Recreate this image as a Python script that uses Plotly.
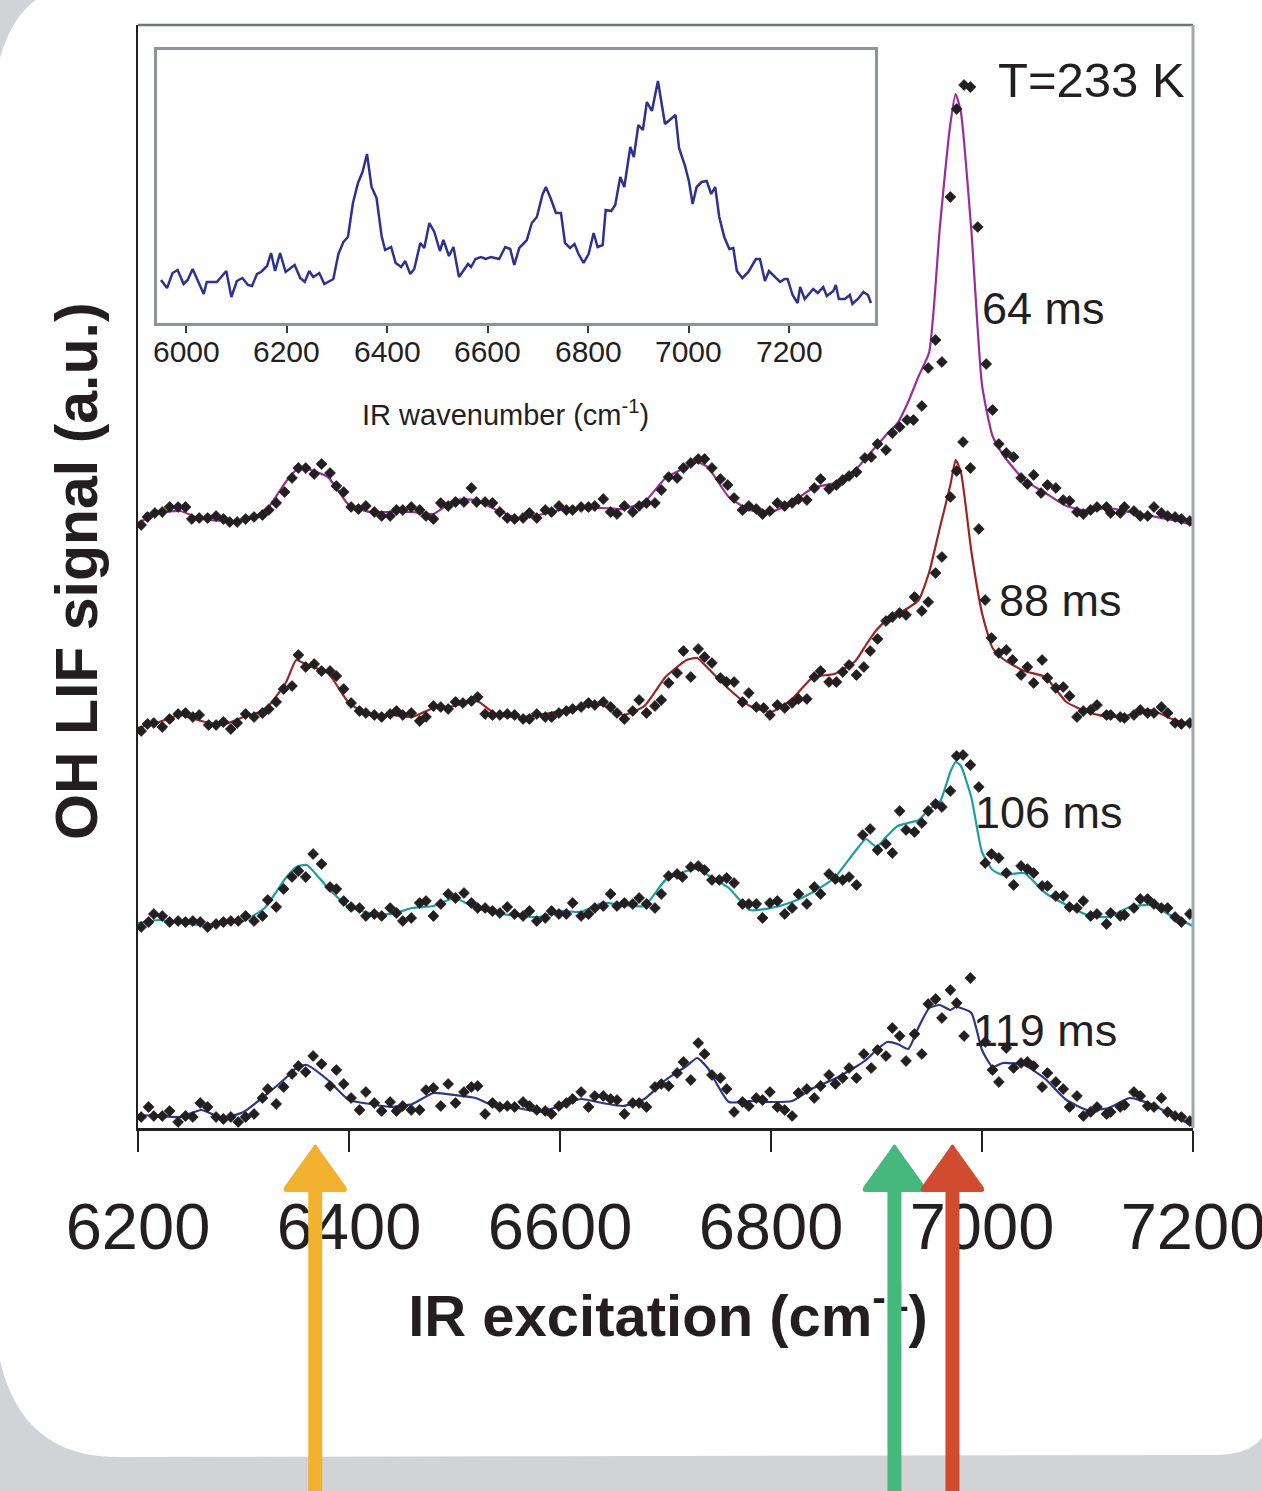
import plotly.graph_objects as go

# ---------------- data ----------------
tick_main = [6200, 6400, 6600, 6800, 7000, 7200]
tick_inset = [6000, 6200, 6400, 6600, 6800, 7000, 7200]
delay_labels = ["64 ms", "88 ms", "106 ms", "119 ms"]
temperature_label = "T=233 K"

x_64 = [6203, 6209, 6216, 6223, 6230, 6238, 6245, 6251, 6258, 6266,
        6274, 6281, 6287, 6294, 6302, 6310, 6318, 6324, 6331, 6339,
        6346, 6352, 6359, 6367, 6374, 6382, 6388, 6395, 6402, 6409,
        6416, 6424, 6431, 6439, 6445, 6451, 6459, 6467, 6473, 6480,
        6487, 6494, 6501, 6509, 6516, 6521, 6529, 6536, 6543, 6550,
        6557, 6565, 6571, 6578, 6586, 6592, 6599, 6606, 6612, 6620,
        6627, 6633, 6641, 6648, 6654, 6661, 6669, 6675, 6682, 6690,
        6696, 6703, 6711, 6717, 6724, 6731, 6737, 6744, 6752, 6759,
        6765, 6773, 6779, 6786, 6792, 6799, 6806, 6813, 6820, 6826,
        6834, 6841, 6847, 6855, 6862, 6868, 6874, 6881, 6889, 6895,
        6901, 6909, 6915, 6922, 6929, 6935, 6943, 6949, 6956, 6962,
        6970, 6976, 6983, 6989, 6996, 7004, 7010, 7016, 7023, 7030,
        7037, 7043, 7049, 7056, 7062, 7070, 7077, 7083, 7090, 7096,
        7103, 7109, 7118, 7122, 7131, 7135, 7144, 7150, 7157, 7163,
        7170, 7176, 7183, 7189, 7197]
y_64 = [6.03, 6.11, 6.15, 6.16, 6.21, 6.21, 6.21, 6.09, 6.10, 6.10,
        6.12, 6.09, 6.06, 6.06, 6.09, 6.11, 6.13, 6.18, 6.25, 6.36,
        6.50, 6.60, 6.60, 6.54, 6.64, 6.55, 6.42, 6.36, 6.21, 6.19,
        6.22, 6.16, 6.12, 6.12, 6.18, 6.18, 6.21, 6.18, 6.12, 6.09,
        6.25, 6.22, 6.26, 6.26, 6.40, 6.26, 6.26, 6.25, 6.16, 6.10,
        6.09, 6.10, 6.15, 6.10, 6.18, 6.16, 6.22, 6.18, 6.18, 6.21,
        6.21, 6.22, 6.29, 6.16, 6.14, 6.22, 6.16, 6.22, 6.25, 6.25,
        6.38, 6.51, 6.50, 6.60, 6.65, 6.69, 6.69, 6.60, 6.49, 6.43,
        6.30, 6.18, 6.22, 6.19, 6.14, 6.17, 6.25, 6.22, 6.25, 6.29,
        6.28, 6.40, 6.49, 6.39, 6.43, 6.48, 6.52, 6.56, 6.70, 6.71,
        6.84, 6.78, 6.95, 7.01, 7.08, 7.08, 7.22, 7.60, 7.88, 7.66,
        9.31, 10.19, 10.43, 10.41, 9.01, 7.64, 7.18, 6.84, 6.75, 6.71,
        6.50, 6.44, 6.53, 6.35, 6.43, 6.40, 6.28, 6.27, 6.16, 6.14,
        6.18, 6.21, 6.21, 6.15, 6.15, 6.21, 6.17, 6.12, 6.12, 6.21,
        6.15, 6.12, 6.11, 6.09, 6.07]

x_88 = [6203, 6209, 6215, 6223, 6230, 6238, 6245, 6252, 6258, 6267,
        6274, 6281, 6288, 6294, 6302, 6310, 6318, 6324, 6331, 6338,
        6346, 6352, 6359, 6367, 6374, 6382, 6388, 6395, 6402, 6410,
        6416, 6424, 6431, 6439, 6445, 6451, 6459, 6467, 6473, 6480,
        6487, 6494, 6501, 6508, 6516, 6522, 6529, 6536, 6543, 6550,
        6557, 6565, 6571, 6578, 6586, 6592, 6599, 6606, 6612, 6620,
        6627, 6633, 6641, 6648, 6654, 6661, 6669, 6675, 6682, 6690,
        6696, 6703, 6711, 6717, 6724, 6731, 6737, 6744, 6752, 6758,
        6765, 6773, 6779, 6786, 6793, 6799, 6806, 6813, 6820, 6826,
        6834, 6841, 6847, 6855, 6862, 6868, 6874, 6881, 6888, 6894,
        6901, 6909, 6915, 6922, 6928, 6936, 6943, 6949, 6956, 6962,
        6970, 6976, 6982, 6989, 6997, 7003, 7009, 7016, 7023, 7029,
        7037, 7043, 7049, 7057, 7062, 7070, 7077, 7083, 7090, 7096,
        7103, 7109, 7118, 7122, 7131, 7135, 7144, 7150, 7157, 7163,
        7170, 7176, 7183, 7189, 7197]
y_88 = [3.97, 4.04, 4.05, 4.01, 4.09, 4.14, 4.15, 4.11, 4.13, 4.03,
        4.03, 4.06, 3.99, 4.05, 4.14, 4.11, 4.15, 4.19, 4.26, 4.39,
        4.42, 4.73, 4.61, 4.64, 4.57, 4.57, 4.52, 4.39, 4.25, 4.17,
        4.15, 4.13, 4.11, 4.14, 4.17, 4.13, 4.15, 4.07, 4.11, 4.22,
        4.21, 4.19, 4.26, 4.25, 4.27, 4.31, 4.14, 4.13, 4.13, 4.14,
        4.13, 4.09, 4.09, 4.14, 4.11, 4.11, 4.15, 4.17, 4.19, 4.21,
        4.25, 4.23, 4.26, 4.21, 4.15, 4.09, 4.17, 4.28, 4.15, 4.22,
        4.28, 4.45, 4.55, 4.77, 4.51, 4.79, 4.71, 4.65, 4.50, 4.46,
        4.46, 4.26, 4.35, 4.21, 4.20, 4.13, 4.23, 4.20, 4.25, 4.29,
        4.29, 4.51, 4.57, 4.46, 4.46, 4.56, 4.63, 4.53, 4.61, 4.77,
        4.89, 5.07, 5.11, 5.15, 5.13, 5.31, 5.17, 5.26, 5.55, 5.71,
        6.31, 6.57, 6.86, 6.60, 5.99, 5.28, 4.90, 4.75, 4.78, 4.68,
        4.53, 4.61, 4.45, 4.68, 4.50, 4.40, 4.41, 4.32, 4.11, 4.17,
        4.18, 4.23, 4.13, 4.13, 4.11, 4.10, 4.13, 4.18, 4.15, 4.15,
        4.21, 4.15, 4.05, 4.04, 4.05]

x_106 = [6203, 6210, 6215, 6223, 6230, 6238, 6245, 6252, 6259, 6266,
         6274, 6281, 6288, 6295, 6302, 6310, 6318, 6323, 6331, 6338,
         6346, 6352, 6359, 6366, 6374, 6382, 6388, 6395, 6402, 6410,
         6416, 6424, 6431, 6439, 6445, 6451, 6459, 6467, 6473, 6480,
         6487, 6494, 6501, 6509, 6516, 6522, 6529, 6536, 6543, 6550,
         6557, 6565, 6571, 6578, 6586, 6592, 6599, 6606, 6612, 6620,
         6627, 6633, 6641, 6648, 6654, 6661, 6669, 6675, 6682, 6690,
         6696, 6703, 6711, 6716, 6724, 6731, 6737, 6744, 6751, 6758,
         6765, 6773, 6779, 6786, 6792, 6799, 6806, 6813, 6820, 6826,
         6834, 6841, 6847, 6855, 6861, 6868, 6874, 6881, 6887, 6894,
         6901, 6909, 6915, 6922, 6928, 6936, 6943, 6949, 6956, 6962,
         6970, 6976, 6982, 6989, 6997, 7003, 7009, 7016, 7023, 7030,
         7037, 7043, 7049, 7057, 7062, 7070, 7077, 7083, 7090, 7096,
         7103, 7109, 7118, 7122, 7131, 7135, 7144, 7150, 7157, 7163,
         7170, 7176, 7183, 7189, 7197]
y_106 = [2.01, 2.06, 2.14, 2.12, 2.06, 2.07, 2.06, 2.07, 2.06, 2.01,
         2.04, 2.06, 2.07, 2.07, 2.12, 2.07, 2.12, 2.28, 2.21, 2.39,
         2.51, 2.57, 2.51, 2.74, 2.64, 2.41, 2.39, 2.27, 2.21, 2.20,
         2.12, 2.14, 2.12, 2.20, 2.15, 2.07, 2.10, 2.25, 2.27, 2.12,
         2.24, 2.34, 2.30, 2.35, 2.25, 2.20, 2.20, 2.17, 2.15, 2.21,
         2.14, 2.12, 2.17, 2.07, 2.10, 2.17, 2.14, 2.14, 2.25, 2.12,
         2.14, 2.20, 2.22, 2.34, 2.22, 2.25, 2.24, 2.30, 2.24, 2.20,
         2.34, 2.52, 2.54, 2.51, 2.61, 2.62, 2.58, 2.48, 2.48, 2.50,
         2.45, 2.24, 2.24, 2.24, 2.10, 2.25, 2.27, 2.14, 2.20, 2.34,
         2.24, 2.41, 2.34, 2.54, 2.49, 2.48, 2.51, 2.43, 2.93, 2.99,
         2.78, 2.84, 2.75, 3.17, 2.98, 2.96, 3.05, 3.17, 3.24, 3.21,
         3.37, 3.72, 3.73, 3.63, 3.41, 2.65, 2.74, 2.70, 2.55, 2.43,
         2.62, 2.59, 2.55, 2.42, 2.42, 2.32, 2.32, 2.21, 2.20, 2.27,
         2.12, 2.14, 2.04, 2.15, 2.12, 2.13, 2.20, 2.29, 2.29, 2.24,
         2.20, 2.20, 2.11, 2.06, 2.14]

x_119 = [6203, 6210, 6215, 6223, 6230, 6238, 6245, 6252, 6259, 6266,
         6274, 6281, 6288, 6295, 6302, 6310, 6318, 6323, 6331, 6338,
         6346, 6352, 6359, 6366, 6374, 6382, 6388, 6395, 6402, 6410,
         6416, 6424, 6431, 6439, 6445, 6451, 6459, 6467, 6473, 6480,
         6487, 6494, 6501, 6509, 6516, 6522, 6529, 6536, 6543, 6550,
         6557, 6565, 6571, 6578, 6586, 6592, 6599, 6606, 6612, 6620,
         6627, 6633, 6641, 6648, 6654, 6661, 6669, 6675, 6682, 6690,
         6696, 6703, 6711, 6717, 6724, 6731, 6737, 6744, 6752, 6758,
         6765, 6773, 6779, 6786, 6792, 6799, 6806, 6813, 6820, 6826,
         6834, 6841, 6847, 6855, 6861, 6868, 6874, 6881, 6888, 6895,
         6901, 6909, 6915, 6922, 6928, 6936, 6943, 6949, 6956, 6962,
         6970, 6976, 6983, 6989, 7003, 7010, 7016, 7023, 7030,
         7037, 7043, 7049, 7057, 7062, 7070, 7077, 7083, 7090, 7096,
         7103, 7109, 7118, 7122, 7131, 7135, 7144, 7150, 7157, 7163,
         7170, 7176, 7183, 7189, 7197]
y_119 = [0.11, 0.21, 0.12, 0.12, 0.17, 0.06, 0.12, 0.11, 0.25, 0.21,
         0.11, 0.09, 0.11, 0.06, 0.11, 0.14, 0.30, 0.39, 0.24, 0.41,
         0.54, 0.62, 0.56, 0.72, 0.64, 0.42, 0.58, 0.44, 0.30, 0.18,
         0.36, 0.25, 0.17, 0.26, 0.17, 0.22, 0.18, 0.18, 0.38, 0.40,
         0.22, 0.44, 0.25, 0.36, 0.41, 0.42, 0.14, 0.25, 0.21, 0.22,
         0.21, 0.26, 0.22, 0.18, 0.17, 0.14, 0.22, 0.25, 0.29, 0.36,
         0.21, 0.32, 0.32, 0.29, 0.28, 0.14, 0.25, 0.25, 0.21, 0.41,
         0.44, 0.42, 0.55, 0.66, 0.48, 0.85, 0.74, 0.53, 0.50, 0.39,
         0.16, 0.26, 0.22, 0.30, 0.28, 0.36, 0.21, 0.18, 0.12, 0.35,
         0.39, 0.30, 0.42, 0.53, 0.44, 0.50, 0.60, 0.50, 0.74, 0.60,
         0.78, 0.72, 1.00, 0.92, 0.67, 0.94, 0.74, 1.24, 1.29, 1.10,
         1.38, 1.25, 0.92, 1.50, 0.86, 0.58, 0.46, 0.80, 0.60,
         0.65, 0.66, 0.62, 0.41, 0.55, 0.46, 0.39, 0.21, 0.32, 0.12,
         0.16, 0.21, 0.14, 0.16, 0.21, 0.23, 0.36, 0.32, 0.22, 0.21,
         0.30, 0.16, 0.12, 0.11, 0.07]

# smoothed fit curves drawn through the data
fit_x = [6200, 6220, 6240, 6260, 6280, 6300, 6320, 6340, 6350, 6360,
         6380, 6400, 6420, 6440, 6460, 6480, 6500, 6520, 6540, 6560,
         6580, 6600, 6620, 6640, 6660, 6680, 6700, 6720, 6730, 6740,
         6760, 6780, 6800, 6820, 6840, 6860, 6880, 6890, 6900, 6910,
         6920, 6930, 6940, 6950, 6960, 6970, 6975, 6980, 6990, 7000,
         7010, 7020, 7040, 7060, 7080, 7100, 7120, 7140, 7160, 7180,
         7200]
fit_64 = [6.05, 6.15, 6.17, 6.09, 6.07, 6.08, 6.16, 6.46, 6.58, 6.59,
          6.51, 6.23, 6.16, 6.16, 6.16, 6.14, 6.28, 6.28, 6.18, 6.10,
          6.13, 6.18, 6.20, 6.20, 6.19, 6.26, 6.50, 6.61, 6.66, 6.61,
          6.31, 6.18, 6.16, 6.26, 6.40, 6.45, 6.58, 6.70, 6.82, 6.94,
          7.05, 7.26, 7.52, 7.76, 9.00, 10.04, 10.34, 10.16, 8.96, 7.43,
          6.92, 6.73, 6.48, 6.35, 6.22, 6.17, 6.20, 6.16, 6.12, 6.08,
          6.03]
fit_88 = [4.00, 4.06, 4.13, 4.07, 4.03, 4.11, 4.18, 4.45, 4.68, 4.63,
          4.55, 4.25, 4.13, 4.13, 4.11, 4.20, 4.22, 4.28, 4.13, 4.11,
          4.13, 4.17, 4.21, 4.23, 4.13, 4.22, 4.51, 4.68, 4.70, 4.60,
          4.39, 4.22, 4.16, 4.29, 4.51, 4.54, 4.67, 4.83, 4.98, 5.08,
          5.14, 5.20, 5.28, 5.56, 6.00, 6.43, 6.68, 6.56, 5.76, 5.15,
          4.80, 4.69, 4.57, 4.51, 4.26, 4.16, 4.11, 4.13, 4.18, 4.09,
          4.03]
fit_106 = [2.05, 2.08, 2.05, 2.03, 2.05, 2.07, 2.20, 2.50, 2.61, 2.63,
           2.40, 2.21, 2.15, 2.14, 2.20, 2.22, 2.30, 2.20, 2.15, 2.12,
           2.11, 2.17, 2.16, 2.25, 2.23, 2.22, 2.48, 2.57, 2.59, 2.53,
           2.40, 2.18, 2.20, 2.26, 2.36, 2.50, 2.77, 2.89, 2.81, 2.92,
           3.02, 3.05, 3.08, 3.19, 3.26, 3.56, 3.66, 3.62, 3.30, 2.76,
           2.58, 2.53, 2.55, 2.35, 2.23, 2.13, 2.11, 2.21, 2.23, 2.12,
           2.02]
fit_119 = [0.13, 0.12, 0.11, 0.18, 0.10, 0.16, 0.32, 0.50, 0.60, 0.63,
           0.48, 0.28, 0.24, 0.21, 0.24, 0.35, 0.33, 0.30, 0.21, 0.20,
           0.16, 0.22, 0.29, 0.25, 0.22, 0.29, 0.48, 0.62, 0.70, 0.60,
           0.26, 0.27, 0.26, 0.27, 0.40, 0.49, 0.61, 0.68, 0.78, 0.86,
           0.84, 0.79, 1.01, 1.20, 1.23, 1.18, 1.21, 1.20, 1.15, 0.78,
           0.61, 0.65, 0.63, 0.49, 0.28, 0.18, 0.20, 0.30, 0.24, 0.13,
           0.02]

# inset spectrum
inset_x = [5950, 5962, 5973, 5983, 5995, 6003, 6013, 6023, 6035, 6041,
           6061, 6080, 6090, 6101, 6112, 6123, 6131, 6141, 6149, 6161,
           6169, 6177, 6187, 6198, 6216, 6227, 6236, 6245, 6253, 6265,
           6275, 6293, 6303, 6313, 6322, 6332, 6342, 6351, 6360, 6369,
           6379, 6389, 6396, 6408, 6417, 6428, 6436, 6446, 6454, 6466,
           6474, 6484, 6494, 6505, 6512, 6523, 6532, 6543, 6552, 6561,
           6567, 6576, 6587, 6596, 6607, 6623, 6635, 6645, 6653, 6663,
           6678, 6688, 6698, 6709, 6716, 6726, 6736, 6746, 6754, 6764,
           6773, 6781, 6791, 6801, 6811, 6819, 6829, 6835, 6846, 6854,
           6864, 6872, 6884, 6891, 6900, 6909, 6917, 6927, 6939, 6953,
           6974, 6981, 6993, 7001, 7008, 7016, 7026, 7036, 7045, 7053,
           7061, 7071, 7081, 7089, 7096, 7107, 7119, 7134, 7142, 7152,
           7160, 7172, 7182, 7191, 7197, 7207, 7217, 7222, 7231, 7248,
           7257, 7268, 7275, 7288, 7293, 7299, 7311, 7321, 7326, 7337,
           7348, 7357, 7363]
inset_y = [0.43, 0.35, 0.50, 0.53, 0.39, 0.43, 0.54, 0.42, 0.29, 0.41,
           0.41, 0.52, 0.26, 0.42, 0.45, 0.38, 0.37, 0.49, 0.51, 0.57,
           0.70, 0.52, 0.70, 0.51, 0.58, 0.45, 0.41, 0.52, 0.46, 0.50,
           0.39, 0.44, 0.69, 0.81, 0.86, 1.20, 1.40, 1.51, 1.69, 1.36,
           1.25, 0.87, 0.73, 0.76, 0.60, 0.56, 0.62, 0.49, 0.54, 0.80,
           0.75, 1.00, 0.91, 0.72, 0.83, 0.67, 0.76, 0.46, 0.52, 0.59,
           0.56, 0.64, 0.66, 0.64, 0.66, 0.64, 0.76, 0.74, 0.58, 0.75,
           0.83, 1.00, 1.06, 1.28, 1.36, 1.24, 1.10, 1.10, 0.80, 0.75,
           0.79, 0.69, 0.60, 0.69, 0.90, 0.76, 0.78, 1.13, 1.12, 1.18,
           1.46, 1.36, 1.76, 1.66, 1.98, 1.93, 2.21, 2.12, 2.42, 1.99,
           2.08, 1.75, 1.57, 1.41, 1.19, 1.36, 1.41, 1.42, 1.29, 1.36,
           1.06, 0.86, 0.74, 0.75, 0.52, 0.45, 0.51, 0.64, 0.64, 0.42,
           0.52, 0.46, 0.41, 0.44, 0.44, 0.28, 0.20, 0.36, 0.24, 0.34,
           0.30, 0.36, 0.27, 0.32, 0.38, 0.24, 0.24, 0.28, 0.19, 0.24,
           0.31, 0.28, 0.20]

# excitation wavenumbers marked by the coloured arrows
arrow_positions = [6368, 6917, 6972]

# label anchor points (wavenumber, signal)
label_x = [6998, 7014, 6991, 6990]
label_y = [8.20, 5.28, 3.16, 0.98]
temp_xy = (7013, 10.48)

# ---------------- styling / geometry ----------------
FONT = "Liberation Sans, Arial, Helvetica, sans-serif"
INK = "#231f20"
line_colors = ["#9a2c9e", "#a1231f", "#17a0a2", "#2c3592"]
arrow_colors = ["#f2b12e", "#45b97c", "#d14b2f"]

FIG_W, FIG_H = 1262, 1491
PLOT_L, PLOT_R, PLOT_T, PLOT_B = 138, 1193, 25, 1128      # main frame (px)
INSET_L, INSET_R, INSET_T, INSET_B = 157, 875, 50, 323   # inset frame (px)
X0, X1 = 6200, 7200
Y0, Y1 = 0.0, 11.03
IX0, IX1 = 5942, 7371


def paper_x(px):
    return px / FIG_W


def paper_y(py):
    return 1 - py / FIG_H


def data_to_px(x):
    return PLOT_L + (x - X0) / (X1 - X0) * (PLOT_R - PLOT_L)


def build_path(cmds):
    parts = []
    for cmd, pts in cmds:
        parts.append(cmd + " ".join(f"{paper_x(a):.5f},{paper_y(b):.5f}" for a, b in pts))
    return " ".join(parts) + " Z"


fig = go.Figure()

series = [(x_64, y_64, fit_64), (x_88, y_88, fit_88),
          (x_106, y_106, fit_106), (x_119, y_119, fit_119)]

for (xs, ys, fit), col in zip(series, line_colors):
    fig.add_trace(go.Scatter(x=fit_x, y=fit, mode="lines",
                             line=dict(color=col, width=2.2, shape="spline", smoothing=0.5),
                             hoverinfo="skip", showlegend=False, xaxis="x", yaxis="y"))
for (xs, ys, fit) in series:
    fig.add_trace(go.Scatter(x=xs, y=ys, mode="markers",
                             marker=dict(symbol="diamond", size=8.3, color=INK,
                                         line=dict(width=0.8, color=INK)),
                             showlegend=False, xaxis="x", yaxis="y"))

fig.add_trace(go.Scatter(x=inset_x, y=inset_y, mode="lines",
                         line=dict(color="#2e3192", width=2.5),
                         showlegend=False, xaxis="x2", yaxis="y2"))

# x-axis title on a full-figure overlay (below the arrows, as in the original)
fig.add_trace(go.Scatter(x=[668], y=[1321], mode="text",
                         text=["<b>IR excitation (cm<sup>-1</sup>)</b>"],
                         textposition="middle center",
                         textfont=dict(family=FONT, size=58, color=INK),
                         hoverinfo="skip", showlegend=False,
                         xaxis="x3", yaxis="y3"))

shapes = []
# white rounded panel over grey page background
panel = [("M", [(37, -1)]), ("L", [(1263, -1)]), ("L", [(1263, 1436)]),
         ("Q", [(1251, 1455), (1213, 1455)]), ("L", [(117, 1457)]),
         ("Q", [(20, 1457), (-1, 1356)]), ("L", [(-1, 61)]),
         ("Q", [(11, 17), (37, -1)])]
shapes.append(dict(type="path", xref="paper", yref="paper", layer="below",
                   path=build_path(panel), fillcolor="white", line=dict(width=0)))
# grey top and right frame lines
shapes.append(dict(type="line", xref="paper", yref="paper",
                   x0=paper_x(PLOT_L), x1=paper_x(PLOT_R), y0=paper_y(PLOT_T), y1=paper_y(PLOT_T),
                   line=dict(color="#707478", width=2.5), layer="above"))
shapes.append(dict(type="line", xref="paper", yref="paper",
                   x0=paper_x(PLOT_R), x1=paper_x(PLOT_R), y0=paper_y(PLOT_B), y1=paper_y(PLOT_T),
                   line=dict(color="#a2a7ac", width=3), layer="above"))
# arrows
for pos, col in zip(arrow_positions, arrow_colors):
    cx = data_to_px(pos)
    pts = [("M", [(cx - 7, 1500)]), ("L", [(cx - 7, 1192)]), ("L", [(cx - 29, 1192)]),
           ("Q", [(cx - 33, 1192), (cx - 31, 1187)]),
           ("L", [(cx - 3, 1148)]), ("Q", [(cx, 1141), (cx + 3, 1148)]),
           ("L", [(cx + 31, 1187)]), ("Q", [(cx + 33, 1192), (cx + 29, 1192)]),
           ("L", [(cx + 7, 1192)]), ("L", [(cx + 7, 1500)])]
    shapes.append(dict(type="path", xref="paper", yref="paper", layer="above",
                       path=build_path(pts), fillcolor=col, line=dict(width=0)))

annotations = []
annotations.append(dict(text="<b>OH LIF signal (a.u.)</b>", textangle=-90,
                        xref="paper", yref="paper", x=paper_x(77), y=paper_y(571),
                        xanchor="center", yanchor="middle", showarrow=False,
                        font=dict(family=FONT, size=59, color=INK)))
annotations.append(dict(text="IR wavenumber (cm<sup>-1</sup>)",
                        xref="paper", yref="paper", x=paper_x(505), y=paper_y(413),
                        xanchor="center", yanchor="middle", showarrow=False,
                        font=dict(family=FONT, size=29, color=INK)))
# inset tick labels
for v in tick_inset:
    annotations.append(dict(text=str(v), xref="x2", yref="paper", x=v, y=paper_y(351),
                            xanchor="center", yanchor="middle", showarrow=False,
                            font=dict(family=FONT, size=30, color=INK)))
annotations.append(dict(text=temperature_label, xref="x", yref="y",
                        x=temp_xy[0], y=temp_xy[1], xanchor="left", yanchor="middle",
                        showarrow=False, font=dict(family=FONT, size=49, color=INK)))
for txt, lx, ly in zip(delay_labels, label_x, label_y):
    annotations.append(dict(text=txt, xref="x", yref="y", x=lx, y=ly,
                            xanchor="left", yanchor="middle", showarrow=False,
                            font=dict(family=FONT, size=45, color=INK)))

fig.update_layout(
    width=FIG_W, height=FIG_H,
    margin=dict(l=0, r=0, t=0, b=0, pad=0, autoexpand=False),
    paper_bgcolor="#d1d3d6", plot_bgcolor="rgba(0,0,0,0)",
    font=dict(family=FONT, color=INK),
    showlegend=False,
    xaxis=dict(domain=[paper_x(PLOT_L), paper_x(PLOT_R)], range=[X0, X1], anchor="y",
               showline=True, linecolor=INK, linewidth=2.5,
               ticks="outside", ticklen=21, tickwidth=1.5, tickcolor=INK,
               tickvals=tick_main, ticktext=[str(v) for v in tick_main],
               tickfont=dict(family=FONT, size=65, color=INK),
               ticklabelstandoff=19, ticklabeloverflow="allow",
               showgrid=False, zeroline=False, fixedrange=True),
    yaxis=dict(domain=[paper_y(PLOT_B), paper_y(PLOT_T)], range=[Y0, Y1], anchor="x",
               showline=True, linecolor=INK, linewidth=2,
               showticklabels=False, ticks="", showgrid=False, zeroline=False,
               fixedrange=True),
    xaxis2=dict(domain=[paper_x(INSET_L), paper_x(INSET_R)], range=[IX0, IX1], anchor="y2",
                showline=True, mirror=True, linecolor="#8d9399", linewidth=3,
                ticks="outside", ticklen=7, tickwidth=1.5, tickcolor="#3a3a3a",
                tickvals=tick_inset, showticklabels=False,
                showgrid=False, zeroline=False, fixedrange=True),
    yaxis2=dict(domain=[paper_y(INSET_B), paper_y(INSET_T)], range=[0, 2.73], anchor="x2",
                showline=True, mirror=True, linecolor="#8d9399", linewidth=3,
                showticklabels=False, ticks="", showgrid=False, zeroline=False,
                fixedrange=True),
    xaxis3=dict(domain=[0, 1], range=[0, FIG_W], anchor="y3", visible=False,
                fixedrange=True),
    yaxis3=dict(domain=[0, 1], range=[FIG_H, 0], anchor="x3", visible=False,
                fixedrange=True),
    shapes=shapes,
    annotations=annotations,
)

fig.write_html("out.html", config={"displayModeBar": False},
               post_script="document.body.style.margin='0px';document.body.style.padding='0px';")
